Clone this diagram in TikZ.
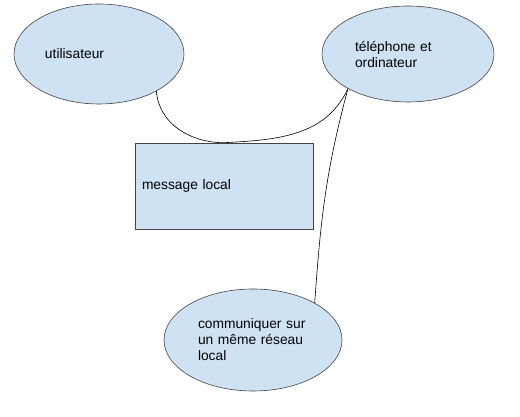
\documentclass[tikz,border=0pt]{standalone}
\usepackage{fontspec}
\setmainfont{Liberation Sans}
\usetikzlibrary{shapes.geometric}

\definecolor{paleblue}{HTML}{CFE2F3}
\definecolor{edgegray}{HTML}{444444}

\begin{document}
\begin{tikzpicture}[x=1pt,y=1pt,
  bubble/.style={ellipse,draw=edgegray,fill=paleblue,line width=0.6pt,inner sep=0pt,align=left,
    font=\fontsize{13.8}{16}\selectfont},
  box/.style={rectangle,draw=edgegray,fill=paleblue,line width=0.6pt,inner sep=0pt,align=left,
    font=\fontsize{13.8}{16}\selectfont},
  link/.style={black,line width=0.6pt}]
  \useasboundingbox (0,0) rectangle (520,417);
  \node[bubble,minimum width=170,minimum height=100,text width=108] (user) at (99,363) {utilisateur};
  \node[bubble,minimum width=172,minimum height=96,text width=106] (device) at (408,363) {téléphone et\\ordinateur};
  \node[box,minimum width=178,minimum height=86,text width=164] (msg) at (224,231) {message local};
  \node[bubble,minimum width=178,minimum height=102,text width=110] (net) at (253,77) {communiquer sur\\un même réseau\\local};
  \draw[link] (user.-33) to[out=-85,in=180] (msg.north);
  \draw[link] (msg.north) to[out=3,in=-115] (device.210);
  \draw[link] (device.210) to[out=-105,in=86] (net.31);
\end{tikzpicture}
\end{document}
